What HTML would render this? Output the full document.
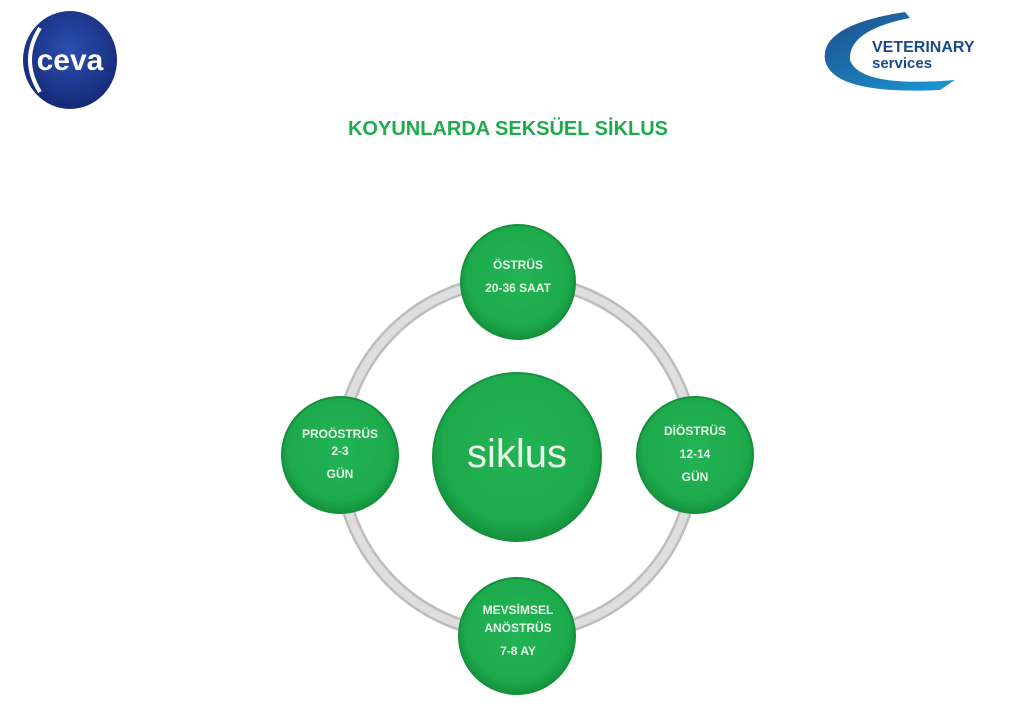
<!DOCTYPE html>
<html><head><meta charset="utf-8">
<style>
html,body{margin:0;padding:0;background:#fff;}
body{width:1034px;height:726px;overflow:hidden;position:relative;font-family:"Liberation Sans",sans-serif;}
</style></head><body>
<svg width="1034" height="726" viewBox="0 0 1034 726" xmlns="http://www.w3.org/2000/svg" style="position:absolute;left:0;top:0">
<defs>
<radialGradient id="g" cx="50%" cy="45%" r="55%">
<stop offset="0" stop-color="#22b455"/><stop offset="0.8" stop-color="#1daa4c"/><stop offset="1" stop-color="#14913c"/>
</radialGradient>
<radialGradient id="ceva" cx="50%" cy="40%" r="60%">
<stop offset="0" stop-color="#2a4fb0"/><stop offset="1" stop-color="#152a78"/>
</radialGradient>
<linearGradient id="vs" x1="0" y1="0" x2="1" y2="1">
<stop offset="0" stop-color="#1d4d8a"/><stop offset="1" stop-color="#1a9ad6"/>
</linearGradient>
</defs>
<ellipse cx="70" cy="60" rx="47" ry="49" fill="url(#ceva)"/>
<path d="M40 28 Q20 60 40 92" stroke="#fff" stroke-width="4" fill="none"/>
<text x="70" y="70" font-size="30" fill="#fff" text-anchor="middle" font-family="Liberation Sans" font-weight="bold">ceva</text>
<path d="M905 12 Q820 25 825 60 Q832 95 940 90 L955 80 Q860 88 850 60 Q848 30 910 18 Z" fill="url(#vs)"/>
<text x="872" y="52" font-size="16" fill="#1b4a8c" font-weight="bold">VETERINARY</text>
<text x="872" y="68" font-size="15" fill="#1b4a8c" font-weight="bold">services</text>
<text x="508" y="135" font-size="20" fill="#1fab4c" text-anchor="middle" font-weight="bold">KOYUNLARDA SEKSÜEL SİKLUS</text>
<circle cx="517" cy="457" r="177" fill="none" stroke="#bdbdbd" stroke-width="13"/>
<circle cx="517" cy="457" r="177" fill="none" stroke="#dedede" stroke-width="8"/>
<g stroke="#14913c" stroke-width="2" fill="url(#g)">
<circle cx="518" cy="282" r="57"/>
<circle cx="340" cy="455" r="58"/>
<circle cx="695" cy="455" r="58"/>
<circle cx="517" cy="636" r="58"/>
<circle cx="517" cy="457" r="84"/>
</g>
<g fill="#e8f5e8" font-size="12" font-weight="bold" text-anchor="middle">
<text x="518" y="269">ÖSTRÜS</text>
<text x="518" y="292">20-36 SAAT</text>
<text x="340" y="438">PROÖSTRÜS</text>
<text x="340" y="455">2-3</text>
<text x="340" y="478">GÜN</text>
<text x="695" y="435">DİÖSTRÜS</text>
<text x="695" y="458">12-14</text>
<text x="695" y="481">GÜN</text>
<text x="518" y="614">MEVSİMSEL</text>
<text x="518" y="632">ANÖSTRÜS</text>
<text x="518" y="655">7-8 AY</text>
</g>
<text x="517" y="467" font-size="40" fill="#e8f5e8" text-anchor="middle">siklus</text>
</svg>
</body></html>
